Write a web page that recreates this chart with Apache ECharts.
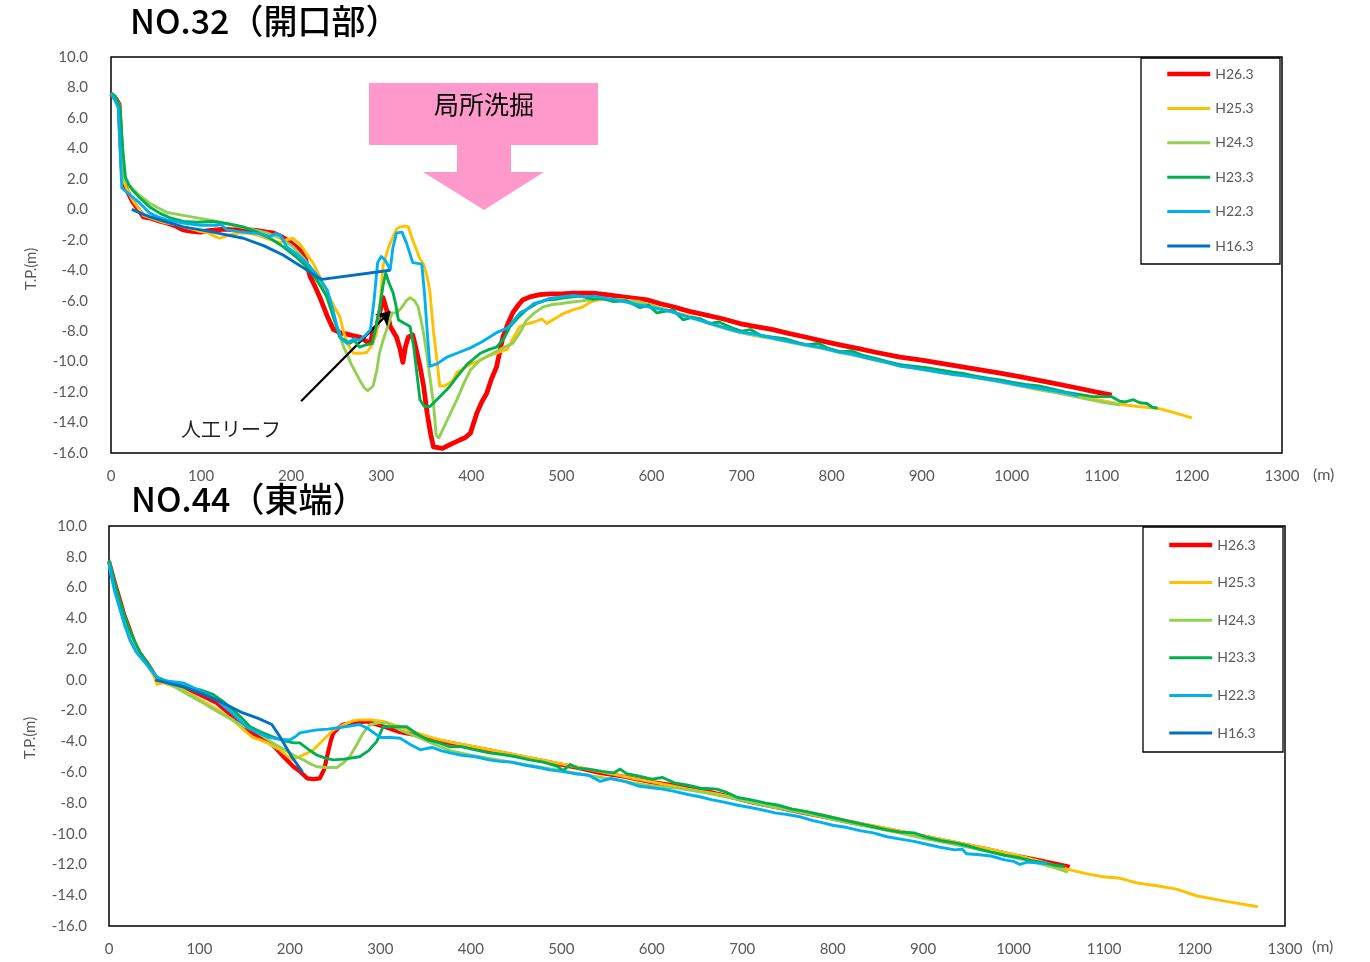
<!DOCTYPE html>
<html>
<head>
<meta charset="utf-8">
<title>NO.32 / NO.44 横断地形</title>
<script src="https://cdn.jsdelivr.net/npm/echarts@6/dist/echarts.min.js"></script>
<style>
  html, body { margin: 0; padding: 0; background: #fff; }
  #chart { width: 1370px; height: 962px; }
</style>
</head>
<body>
<div id="chart"></div>
<script>
// Survey names and line colours (legend order, also drawing order)
const surveyNames = ['H26.3', 'H25.3', 'H24.3', 'H23.3', 'H22.3', 'H16.3'];
const surveyColors = ['#FF0000', '#FFC000', '#92D050', '#00B050', '#00B0F0', '#0070C0'];

// Axis ticks
const xTicks = { min: 0, max: 1300, interval: 100 };
const yTicks = { min: -16, max: 10, interval: 2 };

// ---------- NO.32 (開口部): [distance m, T.P. m] ----------
const no32_H26 = [[0,7.6],[6,7.2],[9,6.9],[13,2.0],[18,1.2],[24,0.5],[30,0.0],[36,-0.5],[45,-0.6],[55,-0.8],[62,-0.9],[72,-1.1],[80,-1.35],[90,-1.45],[99,-1.5],[108,-1.4],[117,-1.35],[126,-1.3],[136,-1.35],[145,-1.3],[154,-1.35],[163,-1.4],[173,-1.5],[180,-1.55],[188,-1.75],[198,-2.1],[210,-2.7],[216,-3.3],[221,-4.4],[226,-5.0],[232,-5.8],[240,-7.0],[247,-7.9],[254,-8.1],[262,-8.2],[269,-8.3],[277,-8.4],[284,-8.7],[288,-8.8],[291,-7.9],[295,-7.7],[299,-6.6],[302,-5.8],[306,-6.6],[310,-7.7],[317,-8.4],[321,-9.2],[324,-10.05],[327,-9.0],[330,-8.4],[335,-8.25],[338,-9.0],[343,-10.3],[347,-11.6],[351,-13.4],[355,-14.8],[358,-15.6],[368,-15.7],[378,-15.4],[387,-15.15],[393,-15.0],[399,-14.7],[406,-13.4],[412,-12.6],[417,-12.1],[422,-11.2],[428,-10.35],[435,-8.4],[440,-7.6],[446,-6.8],[452,-6.3],[457,-5.95],[465,-5.75],[476,-5.6],[488,-5.55],[500,-5.55],[513,-5.5],[525,-5.5],[535,-5.5],[550,-5.6],[568,-5.75],[582,-5.85],[595,-5.95],[610,-6.2],[624,-6.4],[642,-6.7],[661,-6.95],[680,-7.2],[698,-7.5],[716,-7.7],[735,-7.9],[752,-8.15],[772,-8.4],[790,-8.65],[809,-8.9],[830,-9.15],[850,-9.4],[876,-9.7],[900,-9.9],[930,-10.2],[960,-10.5],[987,-10.75],[1010,-11.0],[1040,-11.35],[1070,-11.7],[1090,-11.95],[1111,-12.2]];

const no32_H25 = [[0,7.6],[6,7.2],[9,6.9],[13,2.0],[18,1.3],[24,0.6],[30,0.1],[36,-0.4],[45,-0.6],[55,-0.8],[62,-0.9],[72,-1.0],[80,-1.15],[90,-1.3],[99,-1.45],[108,-1.55],[114,-1.75],[121,-1.9],[130,-1.7],[143,-1.55],[155,-1.6],[165,-1.75],[175,-1.95],[188,-2.2],[195,-2.0],[202,-1.9],[210,-2.3],[217,-2.9],[225,-3.6],[232,-4.45],[240,-5.5],[247,-6.3],[254,-7.05],[258,-8.0],[262,-8.8],[269,-9.45],[277,-9.45],[284,-9.4],[290,-8.9],[295,-8.1],[299,-6.0],[302,-3.7],[308,-2.5],[313,-1.8],[317,-1.3],[321,-1.15],[326,-1.1],[330,-1.15],[336,-2.2],[343,-3.25],[347,-3.6],[351,-4.45],[354,-5.4],[358,-8.0],[362,-10.0],[365,-11.6],[370,-11.6],[376,-11.4],[380,-11.2],[384,-10.7],[390,-10.5],[398,-10.2],[410,-9.9],[420,-9.6],[430,-9.4],[440,-9.2],[447,-8.4],[454,-7.7],[460,-7.55],[470,-7.4],[478,-7.2],[484,-7.5],[492,-7.2],[502,-6.85],[513,-6.6],[524,-6.4],[532,-6.1],[540,-5.95],[555,-5.9],[568,-5.95],[585,-6.05],[600,-6.3],[624,-6.75],[645,-7.05],[661,-7.4],[680,-7.75],[698,-8.05],[716,-8.25],[735,-8.45],[755,-8.7],[772,-8.9],[790,-9.1],[809,-9.35],[830,-9.6],[855,-9.95],[876,-10.25],[900,-10.45],[925,-10.7],[950,-10.9],[970,-11.1],[987,-11.3],[1010,-11.55],[1030,-11.8],[1050,-12.0],[1074,-12.25],[1100,-12.55],[1120,-12.8],[1140,-12.95],[1165,-13.1],[1180,-13.35],[1200,-13.7]];

const no32_H24 = [[0,7.6],[4,7.5],[8,6.8],[11,4.0],[13,2.1],[20,1.6],[30,1.0],[43,0.4],[52,0.1],[62,-0.2],[80,-0.4],[99,-0.6],[117,-0.8],[136,-1.05],[155,-1.3],[173,-1.55],[188,-1.9],[202,-2.45],[215,-3.3],[229,-4.45],[238,-5.6],[247,-7.05],[258,-9.0],[267,-10.2],[276,-11.2],[281,-11.7],[285,-11.9],[291,-11.6],[295,-10.6],[298,-9.45],[302,-8.6],[306,-7.9],[312,-6.8],[317,-6.8],[322,-6.5],[328,-6.0],[332,-5.8],[337,-6.0],[341,-6.4],[346,-7.8],[350,-9.25],[354,-11.0],[358,-12.75],[361,-14.85],[364,-15.0],[368,-14.5],[376,-13.5],[384,-12.5],[392,-11.4],[399,-10.55],[410,-9.9],[424,-9.45],[435,-9.1],[446,-8.8],[455,-8.0],[461,-7.3],[470,-6.8],[480,-6.4],[490,-6.25],[498,-6.2],[510,-6.1],[532,-5.95],[550,-5.9],[568,-5.95],[585,-6.1],[600,-6.3],[615,-6.55],[630,-6.9],[645,-7.1],[661,-7.45],[680,-7.8],[698,-8.1],[716,-8.3],[735,-8.5],[755,-8.75],[772,-8.95],[790,-9.15],[809,-9.4],[830,-9.65],[855,-10.0],[876,-10.3],[900,-10.5],[925,-10.75],[950,-10.95],[970,-11.15],[987,-11.35],[1010,-11.6],[1030,-11.85],[1050,-12.05],[1074,-12.35],[1100,-12.65],[1120,-12.85]];

const no32_H23 = [[0,7.6],[5,7.4],[10,6.7],[13,4.0],[16,2.1],[20,1.6],[24,1.25],[33,0.7],[43,0.15],[54,-0.25],[65,-0.55],[80,-0.8],[95,-0.85],[113,-0.8],[130,-0.95],[147,-1.15],[162,-1.5],[178,-1.95],[191,-2.45],[205,-3.1],[217,-3.75],[229,-4.7],[240,-5.75],[247,-7.1],[254,-8.4],[265,-8.8],[270,-8.6],[276,-9.05],[283,-8.9],[290,-8.8],[294,-7.8],[298,-6.6],[302,-5.0],[305,-4.2],[309,-4.9],[313,-5.45],[316,-6.2],[319,-7.25],[326,-7.5],[332,-7.7],[336,-9.0],[340,-11.0],[343,-12.5],[348,-12.95],[354,-12.95],[360,-12.6],[365,-12.3],[375,-11.7],[384,-11.0],[395,-10.2],[410,-9.45],[420,-9.2],[428,-9.05],[436,-8.5],[443,-7.7],[452,-7.1],[461,-6.6],[472,-6.2],[484,-5.95],[495,-5.9],[505,-5.8],[521,-5.7],[535,-5.9],[545,-5.85],[557,-6.05],[572,-6.0],[587,-6.45],[597,-6.3],[606,-6.8],[615,-6.7],[624,-6.6],[635,-7.25],[645,-7.1],[655,-7.2],[665,-7.5],[675,-7.4],[690,-7.8],[700,-8.0],[710,-7.9],[722,-8.3],[735,-8.4],[748,-8.5],[760,-8.7],[772,-8.9],[785,-8.8],[795,-9.1],[809,-9.35],[822,-9.3],[835,-9.6],[850,-9.8],[862,-10.0],[876,-10.2],[890,-10.3],[905,-10.4],[920,-10.55],[935,-10.7],[948,-10.8],[960,-10.95],[975,-11.1],[987,-11.2],[1000,-11.35],[1015,-11.5],[1030,-11.6],[1045,-11.8],[1060,-12.0],[1075,-12.15],[1090,-12.3],[1111,-12.3],[1120,-12.6],[1126,-12.65],[1135,-12.5],[1142,-12.7],[1150,-12.75],[1156,-13.0],[1162,-13.05]];

const no32_H22 = [[0,7.6],[4,7.2],[8,6.7],[10,4.0],[12,1.4],[20,1.0],[32,0.4],[43,-0.25],[52,-0.5],[62,-0.7],[80,-0.9],[99,-1.05],[117,-1.05],[122,-1.0],[129,-1.35],[140,-1.45],[154,-1.55],[165,-1.6],[176,-1.8],[183,-1.6],[188,-1.7],[195,-2.45],[205,-2.9],[217,-3.5],[230,-4.4],[240,-5.3],[246,-6.5],[251,-7.7],[256,-8.5],[262,-8.8],[270,-8.5],[276,-8.6],[282,-8.3],[288,-7.9],[292,-6.0],[296,-3.5],[300,-3.1],[304,-3.3],[310,-3.96],[313,-2.5],[317,-1.55],[323,-1.5],[328,-2.2],[335,-3.5],[345,-3.6],[348,-5.5],[351,-8.0],[354,-10.3],[362,-10.15],[373,-9.7],[386,-9.4],[399,-9.1],[412,-8.7],[428,-8.1],[440,-7.8],[454,-6.8],[461,-6.6],[469,-6.2],[478,-6.05],[487,-5.85],[500,-5.75],[513,-5.65],[525,-5.75],[537,-5.7],[550,-5.85],[565,-6.0],[587,-6.3],[605,-6.5],[624,-6.75],[642,-7.1],[661,-7.4],[680,-7.75],[698,-8.05],[716,-8.2],[735,-8.45],[755,-8.7],[772,-8.9],[790,-9.1],[806,-9.35],[820,-9.45],[835,-9.7],[850,-9.9],[865,-10.1],[876,-10.3],[890,-10.4],[905,-10.55],[920,-10.7],[935,-10.85],[950,-10.95],[965,-11.1],[987,-11.3],[1000,-11.45],[1015,-11.6],[1030,-11.75],[1045,-11.9],[1060,-12.05],[1074,-12.25]];

const no32_H16 = [[23,0.0],[43,-0.5],[60,-0.8],[80,-1.15],[100,-1.35],[117,-1.55],[147,-1.9],[170,-2.4],[191,-3.0],[210,-3.7],[229,-4.45],[234,-4.6],[310,-4.0]];

// ---------- NO.44 (東端): [distance m, T.P. m] ----------
const no44_H26 = [[0,7.7],[1,7.6],[6,6.4],[12,5.2],[17,4.2],[23,3.25],[28,2.4],[34,1.75],[42,1.1],[49,0.45],[53,0.0],[65,-0.2],[82,-0.45],[100,-0.95],[119,-1.5],[135,-2.3],[152,-3.25],[163,-3.6],[174,-3.9],[184,-4.4],[193,-5.0],[204,-5.65],[212,-6.0],[219,-6.4],[226,-6.45],[233,-6.4],[238,-5.8],[241,-5.0],[245,-4.0],[248,-3.45],[254,-3.1],[259,-2.9],[270,-2.8],[285,-2.7],[296,-2.9],[307,-3.1],[322,-3.4],[340,-3.6],[360,-3.9],[377,-4.1],[400,-4.35],[430,-4.7],[460,-5.05],[490,-5.4],[520,-5.75],[543,-6.05],[570,-6.3],[600,-6.65],[630,-6.9],[653,-7.15],[680,-7.5],[710,-7.95],[735,-8.25],[764,-8.6],[790,-8.9],[819,-9.25],[850,-9.6],[880,-9.95],[910,-10.3],[940,-10.65],[970,-11.0],[1000,-11.4],[1030,-11.75],[1062,-12.15]];

const no44_H25 = [[0,7.7],[6,6.2],[12,5.0],[23,3.1],[34,1.7],[45,0.8],[50,0.2],[53,-0.3],[60,-0.2],[80,-0.6],[101,-1.3],[120,-1.95],[137,-2.6],[150,-3.3],[159,-3.75],[167,-3.9],[175,-4.1],[189,-4.55],[196,-4.9],[202,-5.2],[210,-5.0],[218,-4.8],[226,-4.55],[237,-3.9],[248,-3.25],[260,-2.9],[270,-2.65],[277,-2.6],[290,-2.6],[303,-2.7],[322,-3.05],[340,-3.45],[360,-3.8],[377,-4.05],[400,-4.3],[430,-4.65],[460,-5.0],[490,-5.35],[520,-5.7],[550,-6.05],[580,-6.4],[610,-6.75],[640,-7.1],[670,-7.4],[700,-7.75],[730,-8.1],[760,-8.45],[790,-8.8],[820,-9.2],[850,-9.55],[880,-9.9],[910,-10.25],[940,-10.6],[970,-10.95],[1000,-11.35],[1030,-11.8],[1062,-12.35],[1080,-12.6],[1099,-12.8],[1118,-12.9],[1136,-13.2],[1160,-13.4],[1180,-13.6],[1203,-14.05],[1235,-14.4],[1270,-14.75]];

const no44_H24 = [[0,7.7],[6,6.2],[12,5.0],[23,3.0],[34,1.7],[45,0.8],[53,0.1],[65,-0.2],[80,-0.7],[101,-1.4],[115,-1.9],[130,-2.4],[145,-2.9],[159,-3.25],[170,-3.65],[181,-4.1],[190,-4.4],[200,-4.75],[207,-5.0],[215,-5.2],[222,-5.45],[230,-5.65],[240,-5.7],[252,-5.7],[259,-5.4],[266,-5.0],[274,-4.2],[281,-3.45],[289,-2.9],[298,-2.8],[307,-2.8],[320,-3.2],[340,-3.7],[360,-4.2],[377,-4.6],[400,-4.9],[430,-5.2],[460,-5.5],[490,-5.8],[520,-6.1],[550,-6.4],[580,-6.7],[600,-6.9],[630,-7.05],[660,-7.35],[690,-7.7],[720,-8.1],[750,-8.45],[780,-8.8],[810,-9.2],[840,-9.55],[870,-9.9],[900,-10.3],[930,-10.65],[960,-11.0],[990,-11.4],[1020,-11.8],[1045,-12.2],[1060,-12.5]];

const no44_H23 = [[0,7.8],[6,6.4],[12,5.1],[23,3.2],[34,1.8],[45,0.9],[52,0.2],[64,-0.1],[80,-0.4],[101,-0.65],[115,-0.95],[126,-1.4],[137,-1.95],[147,-2.5],[156,-3.05],[168,-3.4],[181,-3.7],[193,-3.95],[204,-4.1],[211,-4.1],[220,-4.5],[230,-4.9],[240,-5.1],[248,-5.2],[260,-5.15],[277,-5.0],[287,-4.6],[296,-4.0],[303,-3.05],[315,-3.05],[329,-3.05],[340,-3.5],[352,-3.9],[365,-4.1],[377,-4.35],[390,-4.35],[405,-4.55],[420,-4.75],[435,-4.85],[450,-5.0],[465,-5.2],[480,-5.35],[495,-5.6],[502,-5.9],[510,-5.5],[518,-5.75],[530,-5.8],[545,-5.95],[558,-6.05],[565,-5.8],[572,-6.1],[585,-6.25],[600,-6.45],[612,-6.35],[625,-6.7],[640,-6.85],[655,-7.05],[672,-7.1],[682,-7.3],[695,-7.65],[710,-7.8],[725,-8.0],[740,-8.15],[755,-8.4],[770,-8.55],[785,-8.75],[800,-8.95],[815,-9.15],[830,-9.35],[845,-9.55],[860,-9.75],[875,-9.9],[890,-9.95],[905,-10.25],[920,-10.45],[935,-10.6],[950,-10.8],[962,-11.0],[975,-11.2],[990,-11.4],[1005,-11.55],[1020,-11.75],[1035,-11.9],[1045,-12.05],[1057,-12.15]];

const no44_H22 = [[0,7.6],[1,7.15],[6,5.8],[12,4.6],[17,3.6],[23,2.6],[30,1.8],[40,1.1],[49,0.45],[56,0.0],[68,-0.1],[82,-0.2],[100,-0.7],[119,-1.3],[135,-2.1],[152,-3.05],[163,-3.4],[175,-3.7],[187,-3.85],[200,-3.9],[206,-3.7],[211,-3.45],[220,-3.35],[230,-3.25],[242,-3.2],[255,-3.1],[266,-3.0],[277,-2.9],[287,-3.2],[294,-3.5],[300,-3.75],[311,-3.75],[322,-3.8],[333,-4.2],[344,-4.55],[352,-4.45],[358,-4.4],[367,-4.6],[377,-4.75],[390,-4.9],[405,-5.0],[420,-5.2],[432,-5.3],[445,-5.35],[460,-5.55],[475,-5.7],[487,-5.85],[500,-5.95],[515,-6.1],[530,-6.2],[543,-6.6],[555,-6.4],[570,-6.6],[585,-6.9],[598,-7.0],[612,-7.1],[625,-7.25],[640,-7.45],[653,-7.6],[667,-7.8],[680,-7.95],[695,-8.15],[709,-8.3],[722,-8.45],[736,-8.65],[750,-8.75],[764,-8.9],[778,-9.15],[786,-9.25],[800,-9.45],[816,-9.6],[830,-9.8],[845,-9.95],[860,-10.2],[875,-10.35],[890,-10.5],[905,-10.7],[920,-10.9],[935,-11.05],[943,-11.0],[948,-11.3],[960,-11.35],[975,-11.45],[990,-11.7],[1000,-11.8],[1007,-12.0],[1015,-11.85],[1025,-11.9],[1037,-11.95]];

const no44_H16 = [[51,0.0],[82,-0.45],[101,-0.85],[126,-1.5],[148,-2.15],[165,-2.5],[180,-2.9],[189,-3.7],[202,-5.0],[214,-6.0]];

// Callout arrow pointing at the artificial reef crest (data coordinates)
const reefArrow = { from: [211, -12.6], to: [310, -6.7] };

const no32Data = [no32_H26, no32_H25, no32_H24, no32_H23, no32_H22, no32_H16];
const no44Data = [no44_H26, no44_H25, no44_H24, no44_H23, no44_H22, no44_H16];

const tickColor = '#595959';
const latinFont = 'Lato, "Noto Sans", sans-serif';
const jpFont = '"Noto Sans CJK JP", "Noto Sans", sans-serif';

function makeXAxis(gridIndex) {
  return {
    type: 'value', gridIndex,
    min: xTicks.min, max: xTicks.max, interval: xTicks.interval,
    axisLine: { show: false }, axisTick: { show: false }, splitLine: { show: false },
    axisLabel: { color: tickColor, fontSize: 15, fontFamily: latinFont, margin: 16,
                 formatter: v => String(v) }
  };
}
function makeYAxis(gridIndex, margin) {
  return {
    type: 'value', gridIndex,
    min: yTicks.min, max: yTicks.max, interval: yTicks.interval,
    axisLine: { show: false }, axisTick: { show: false }, splitLine: { show: false },
    axisLabel: { color: tickColor, fontSize: 15, fontFamily: latinFont, margin,
                 formatter: v => v.toFixed(1) }
  };
}
function makeSeries(dataSets, axisIndex, redWidth) {
  return dataSets.map((d, i) => ({
    name: surveyNames[i], type: 'line',
    xAxisIndex: axisIndex, yAxisIndex: axisIndex,
    data: d, showSymbol: false, symbol: 'none',
    lineStyle: { color: surveyColors[i], width: i === 0 ? redWidth : 2.9, join: 'round' },
    itemStyle: { color: surveyColors[i] },
    z: 2 + i
  }));
}

const series = [].concat(makeSeries(no32Data, 0, 4.8), makeSeries(no44Data, 1, 4.2));

// reef callout arrow on the NO.32 panel
series.push({
  type: 'line', xAxisIndex: 0, yAxisIndex: 0, data: [], silent: true, z: 20,
  markLine: {
    silent: true, animation: false,
    symbol: ['none', 'arrow'], symbolSize: 13,
    label: { show: false },
    lineStyle: { color: '#000', width: 2.2, type: 'solid' },
    emphasis: { disabled: true },
    data: [[{ coord: reefArrow.from }, { coord: reefArrow.to }]]
  }
});

const legendText = { color: tickColor, fontSize: 14, fontFamily: latinFont };
const legendItems = surveyNames.map((n, i) => ({
  name: n,
  lineStyle: { color: surveyColors[i], width: i === 0 ? 4.5 : 3 }
}));

const option = {
  animation: false,
  backgroundColor: '#fff',
  grid: [
    { left: 111, top: 57, width: 1171, height: 396, show: true, borderColor: '#000', borderWidth: 1.5, backgroundColor: 'transparent' },
    { left: 109, top: 526, width: 1176, height: 400, show: true, borderColor: '#000', borderWidth: 1.5, backgroundColor: 'transparent' }
  ],
  xAxis: [makeXAxis(0), makeXAxis(1)],
  yAxis: [makeYAxis(0, 23), makeYAxis(1, 22)],
  legend: [
    { data: legendItems, orient: 'vertical', left: 1165, top: 67, itemWidth: 43, itemHeight: 14, itemGap: 20.4,
      itemStyle: { opacity: 0 }, textStyle: legendText, selectedMode: false, padding: 0, z: 10 },
    { data: legendItems, orient: 'vertical', left: 1167, top: 538, itemWidth: 43, itemHeight: 14, itemGap: 23.6,
      itemStyle: { opacity: 0 }, textStyle: legendText, selectedMode: false, padding: 0, z: 10 }
  ],
  series,
  graphic: [
    // legend frames
    { type: 'rect', shape: { x: 1141, y: 58, width: 139, height: 206 }, style: { fill: '#fff', stroke: '#000', lineWidth: 1.3 }, z: 5 },
    { type: 'rect', shape: { x: 1143, y: 527, width: 140, height: 225 }, style: { fill: '#fff', stroke: '#000', lineWidth: 1.3 }, z: 5 },
    // panel titles
    { type: 'text', left: 130, top: 4, style: { text: 'NO.32（開口部）', fontSize: 34, fontWeight: 500, fontFamily: jpFont, fill: '#000' } },
    { type: 'text', left: 131, top: 482, style: { text: 'NO.44（東端）', fontSize: 34, fontWeight: 500, fontFamily: jpFont, fill: '#000' } },
    // axis titles
    { type: 'text', x: 31, y: 269, rotation: Math.PI / 2, style: { text: 'T.P.(m)', fontSize: 15, fontFamily: latinFont, fill: tickColor, align: 'center', verticalAlign: 'middle' } },
    { type: 'text', x: 30, y: 738, rotation: Math.PI / 2, style: { text: 'T.P.(m)', fontSize: 15, fontFamily: latinFont, fill: tickColor, align: 'center', verticalAlign: 'middle' } },
    { type: 'text', x: 1313, y: 475, style: { text: '(m)', fontSize: 16, fontFamily: latinFont, fill: tickColor, verticalAlign: 'middle' } },
    { type: 'text', x: 1312, y: 947, style: { text: '(m)', fontSize: 16, fontFamily: latinFont, fill: tickColor, verticalAlign: 'middle' } },
    // local scour callout
    { type: 'polygon', shape: { points: [[369, 83], [598, 83], [598, 145], [511, 145], [511, 172], [544, 172], [484, 210], [423, 172], [457, 172], [457, 145], [369, 145]] },
      style: { fill: '#FF99CC' }, z: 6 },
    { type: 'text', x: 484, y: 104, style: { text: '局所洗掘', fontSize: 25, fontFamily: jpFont, fill: '#000', align: 'center', verticalAlign: 'middle' }, z: 7 },
    // artificial reef label
    { type: 'text', x: 181, y: 429, style: { text: '人工リーフ', fontSize: 20, fontFamily: jpFont, fill: '#222', verticalAlign: 'middle' }, z: 7 }
  ]
};

const chart = echarts.init(document.getElementById('chart'), null, { renderer: 'canvas' });
chart.setOption(option);
</script>
</body>
</html>
